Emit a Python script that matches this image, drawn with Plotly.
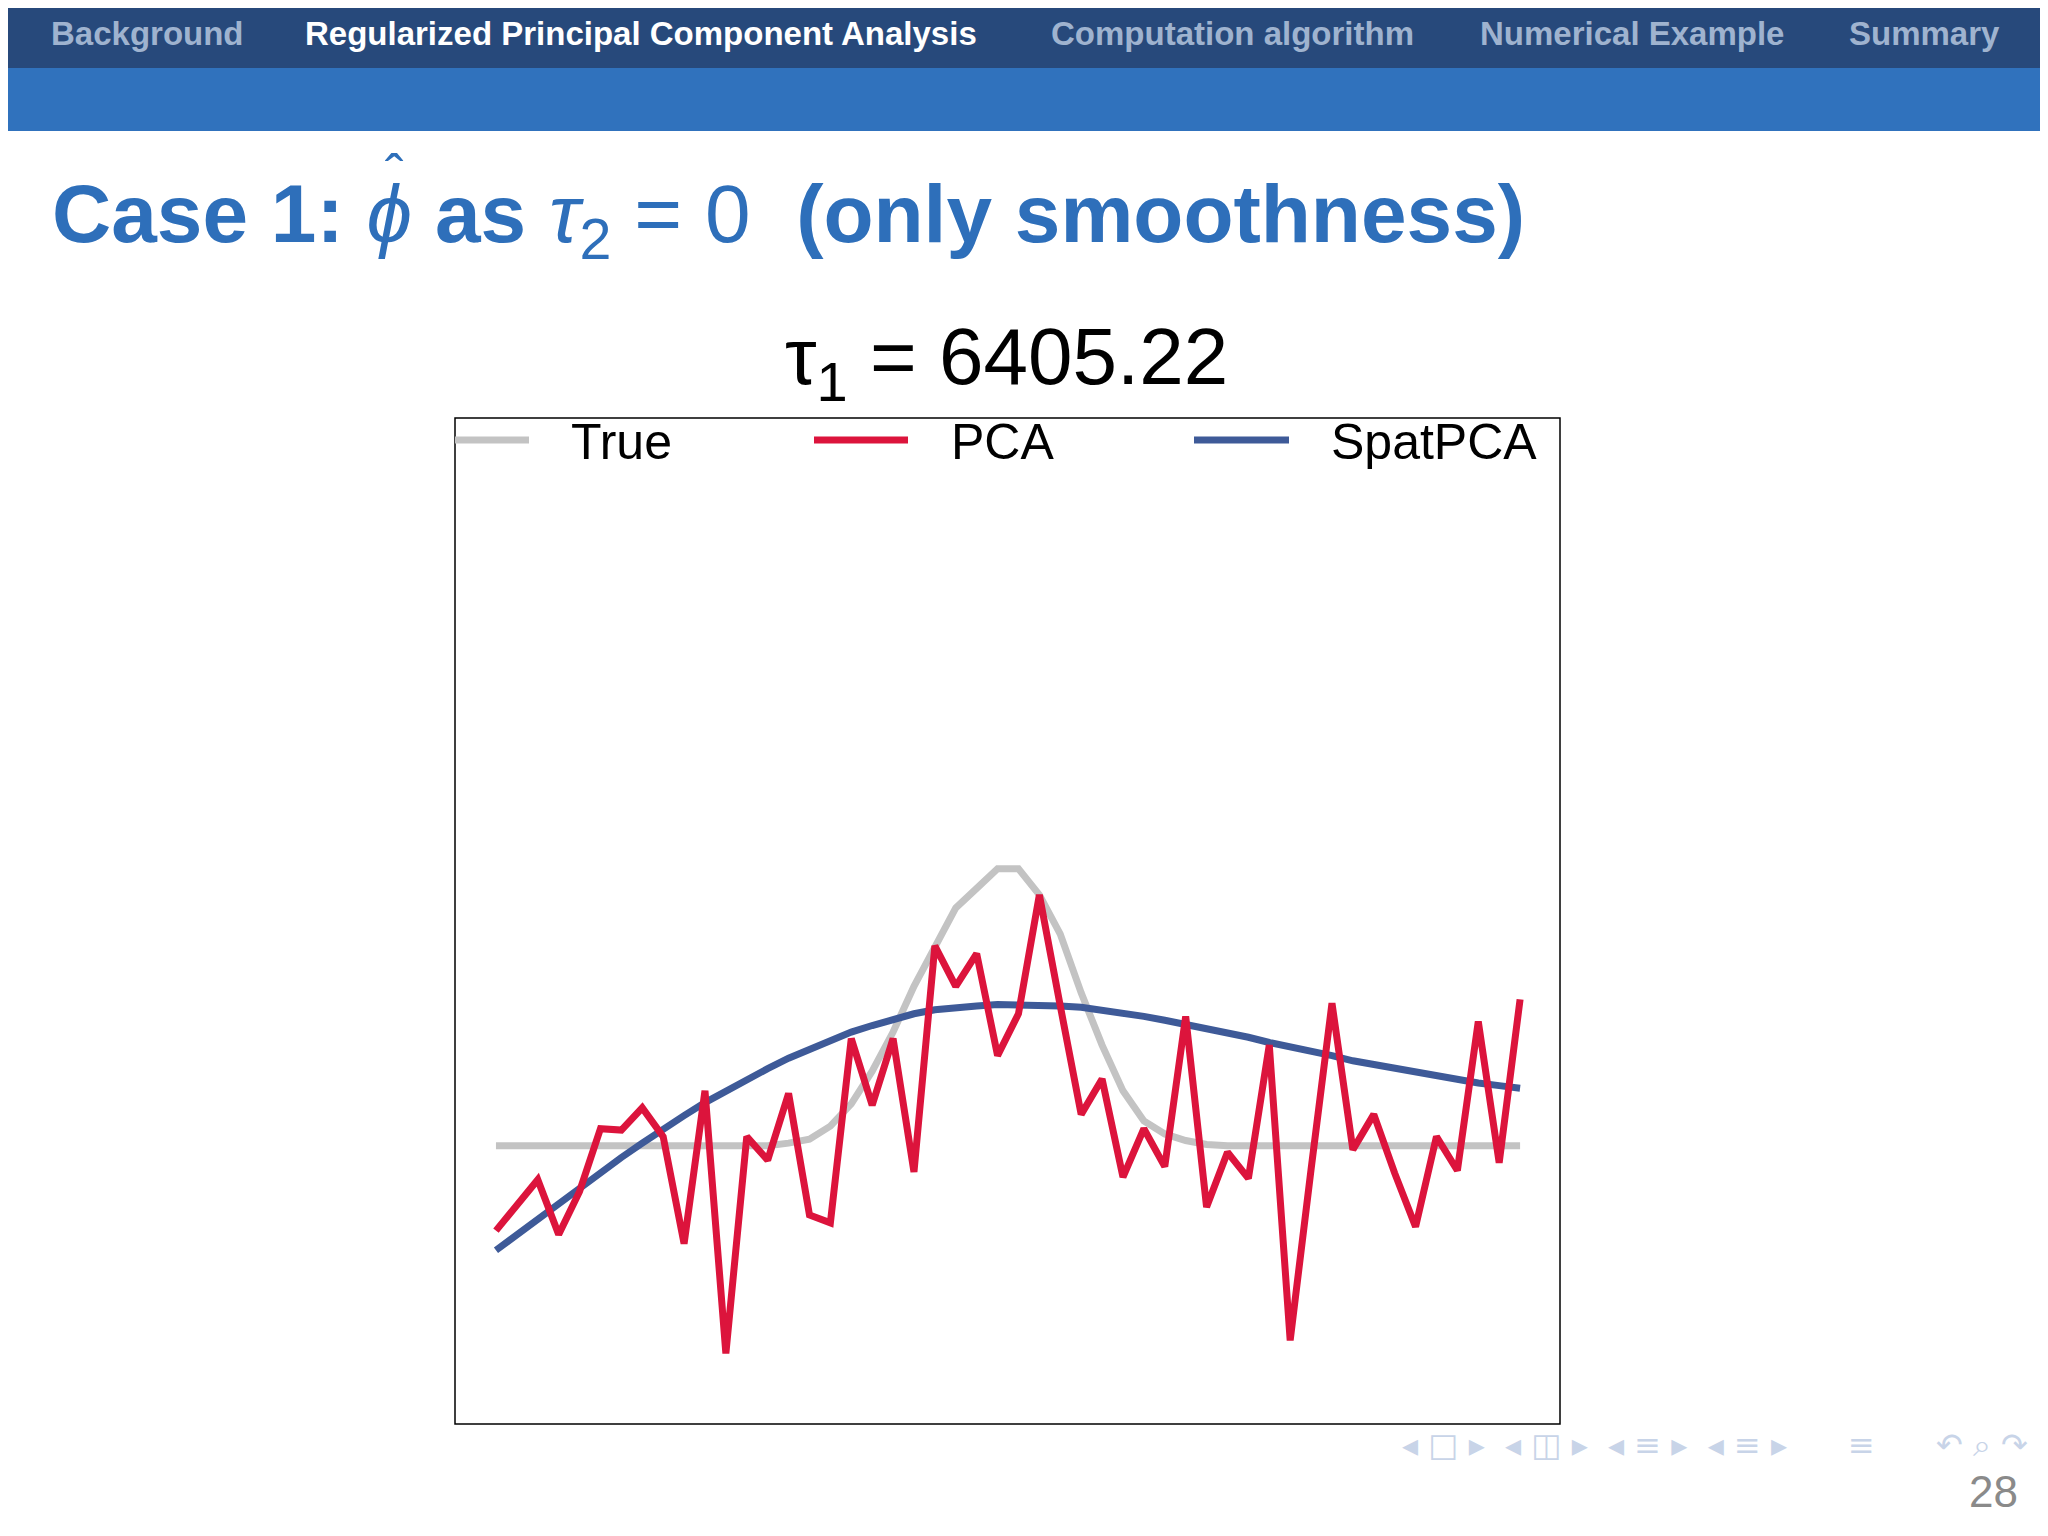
import plotly.graph_objects as go

# values, in image-height units (axis is reversed)
x_idx = list(range(1, 51))
true_vals = [877] * 14 + [875, 872, 862, 845, 820, 790, 755, 725, 695, 680, 665, 665,
             685, 715, 760, 800, 835, 858, 868, 873, 876] + [877] * 15
pca_vals = [942, 922, 903, 945, 912, 864, 865, 848, 870, 952,
            835, 1036, 870, 888, 837, 930, 936, 795, 846, 795,
            897, 724, 755, 730, 808, 776, 685, 770, 853, 826,
            901, 864, 893, 778, 924, 882, 902, 800, 1026, 895,
            768, 880, 853, 898, 939, 870, 896, 782, 890, 765]
spat_vals = [957, 945, 933, 921, 909, 897, 886, 875, 864, 854,
             844, 835, 826, 818, 810, 803, 796, 790, 785, 780,
             776, 773, 771, 770, 769, 769, 769, 770, 771, 773,
             775, 778, 781, 784, 787, 791, 794, 798, 801, 805,
             808, 812, 815, 818, 821, 824, 827, 829, 831, 833]

nav_items = ["Background", "Regularized Principal Component Analysis",
             "Computation algorithm", "Numerical Example", "Summary"]
nav_x = [41, 295, 1041, 1470, 1839]

GRAY, RED, BLUE = "#c3c3c3", "#dc143c", "#3e5a98"

fig = go.Figure()
fig.add_trace(go.Scatter(x=x_idx, y=true_vals, mode="lines", line=dict(color=GRAY, width=7)))
fig.add_trace(go.Scatter(x=x_idx, y=spat_vals, mode="lines", line=dict(color=BLUE, width=7)))
fig.add_trace(go.Scatter(x=x_idx, y=pca_vals, mode="lines", line=dict(color=RED, width=7)))

W, H = 2048, 1536
L, R, T, B = 447, 496, 410, 120
pw, ph = W - L - R, H - T - B
def px(xp): return (xp - L) / pw
def py(yp): return (H - B - yp) / ph

shapes = [
    dict(type="rect", xref="paper", yref="paper", x0=px(-30), x1=px(W + 30), y0=py(-30), y1=py(60),
         fillcolor="#27497b", line_width=0, layer="below"),
    dict(type="rect", xref="paper", yref="paper", x0=px(-30), x1=px(W + 30), y0=py(60), y1=py(123),
         fillcolor="#3072bd", line_width=0, layer="below"),
    dict(type="rect", xref="paper", yref="paper", x0=0, x1=1, y0=0, y1=1,
         line=dict(color="black", width=1.5)),
]
annotations = []
for name, xp in zip(nav_items, nav_x):
    annotations.append(dict(text="<b>" + name + "</b>", xref="paper", yref="paper", x=px(xp), y=py(25),
                            xanchor="left", yanchor="middle", showarrow=False,
                            font=dict(family="Arial", size=33,
                                      color="white" if name.startswith("Reg") else "#9fb3cf")))

# legend drawn by hand
leg = [("True", GRAY, 447, 521, 561), ("PCA", RED, 806, 900, 941), ("SpatPCA", BLUE, 1186, 1281, 1321)]
for name, col, a, b, tx in leg:
    shapes.append(dict(type="line", xref="paper", yref="paper", x0=px(a), x1=px(b),
                       y0=py(432), y1=py(432), line=dict(color=col, width=7)))
    annotations.append(dict(text=name, xref="paper", yref="paper", x=px(tx), y=py(434),
                            xanchor="left", yanchor="middle", showarrow=False,
                            font=dict(family="Arial", size=50, color="black")))

annotations += [
    dict(text="<b>Case 1: </b><i>ϕ</i><b> as </b><i>τ</i><sub>2</sub> = 0 <b> (only smoothness)</b>",
         xref="paper", yref="paper", x=px(42), y=py(211), xanchor="left", yanchor="middle",
         showarrow=False, font=dict(family="Arial", size=82, color="#2e6fba")),
    dict(text="ˆ", xref="paper", yref="paper", x=px(386), y=py(166), xanchor="center",
         yanchor="middle", showarrow=False, font=dict(family="Arial", size=56, color="#2e6fba")),
    dict(text="τ<sub>1</sub> = 6405.22", xref="paper", yref="paper", x=px(998), y=py(355),
         xanchor="center", yanchor="middle", showarrow=False,
         font=dict(family="Arial", size=80, color="black")),
    dict(text="28", xref="paper", yref="paper", x=px(2012), y=py(1483), xanchor="right",
         yanchor="middle", showarrow=False, font=dict(family="Arial", size=44, color="#8a8a8a")),
    dict(text="◂ □ ▸  ◂ ◫ ▸  ◂ ≡ ▸  ◂ ≡ ▸      ≡      ↶ ⌕ ↷", xref="paper", yref="paper",
         x=px(2022), y=py(1437), xanchor="right", yanchor="middle", showarrow=False,
         font=dict(family="DejaVu Sans", size=32, color="#c8d4e8")),
]

fig.update_layout(
    width=W, height=H, margin=dict(l=L, r=R, t=T, b=B),
    paper_bgcolor="white", plot_bgcolor="white", showlegend=False,
    xaxis=dict(range=[-0.96, 51.91], visible=False),
    yaxis=dict(range=[1090, 320], visible=False),
    shapes=shapes, annotations=annotations,
)
fig.write_html("out.html")
